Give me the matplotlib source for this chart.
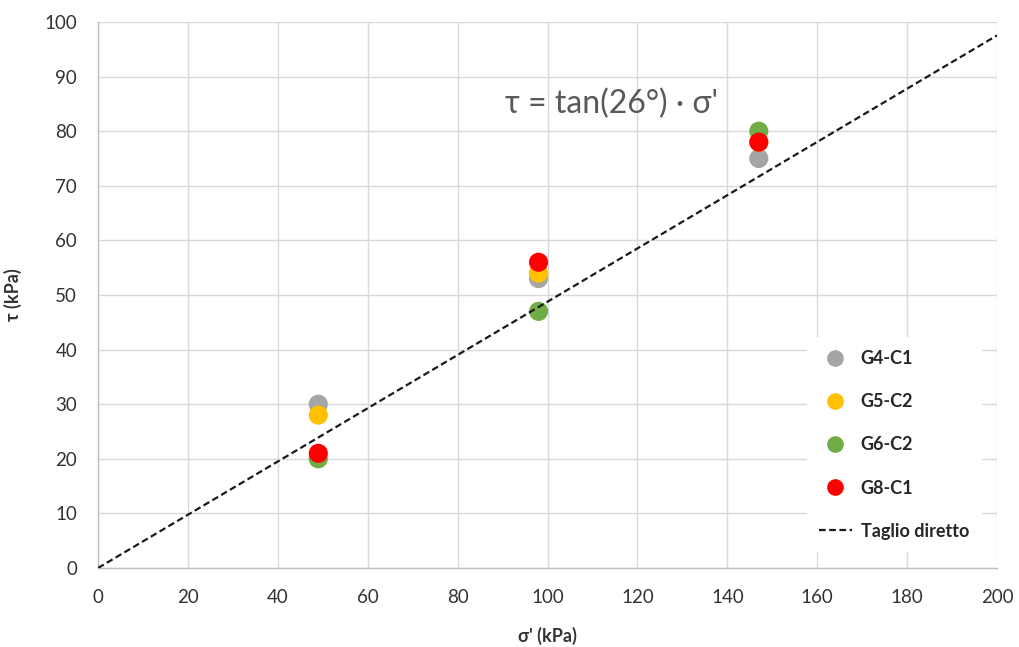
import numpy as np
import matplotlib
matplotlib.use("Agg")
import matplotlib.pyplot as plt
from matplotlib.lines import Line2D

plt.rcParams['font.family'] = ['Lato', 'DejaVu Sans']

# Normal stress levels (kPa) and measured shear strength (kPa) per sample
sigma = [49, 98, 147]
series = {
    "G4-C1": [30, 53, 75],
    "G5-C2": [28, 54, 78],
    "G6-C2": [20, 47, 80],
    "G8-C1": [21, 56, 78],
}
colors = {
    "G4-C1": "#A5A5A5",
    "G5-C2": "#FFC000",
    "G6-C2": "#70AD47",
    "G8-C1": "#FF0000",
}
phi_deg = 26
x_ticks = list(range(0, 201, 20))
y_ticks = list(range(0, 101, 10))

fig = plt.figure(figsize=(10.2, 6.47), dpi=100)
ax = fig.add_axes([0.0961, 0.1221, 0.8814, 0.8439])

handles = []
for i, (name, vals) in enumerate(series.items()):
    ax.scatter(sigma, vals, s=190, color=colors[name], edgecolors='none', zorder=3 + i)
    handles.append(Line2D([], [], marker='o', linestyle='none', markersize=12,
                          markerfacecolor=colors[name], markeredgecolor='none', label=name))

xs = np.array([0, 200])
ax.plot(xs, np.tan(np.radians(phi_deg)) * xs, linestyle=(0, (3, 1.6)), color='#1a1a1a',
        linewidth=1.6, zorder=10)
handles.append(Line2D([], [], linestyle=(0, (3, 1.6)), color='#1a1a1a', linewidth=1.6,
                      label='Taglio diretto'))

ax.set_xlim(0, 200)
ax.set_ylim(0, 100)
ax.set_xticks(x_ticks)
ax.set_yticks(y_ticks)
ax.grid(True, color='#D9D9D9', linewidth=1.0, zorder=0)
ax.set_axisbelow(True)
for side in ('top', 'right'):
    ax.spines[side].set_visible(False)
for side in ('left', 'bottom'):
    ax.spines[side].set_color('#BFBFBF')
    ax.spines[side].set_linewidth(1.0)
ax.tick_params(length=0, labelsize=13.5, colors='#333333')
ax.tick_params(axis='y', pad=15)
ax.tick_params(axis='x', pad=15)

ax.set_ylabel("τ (kPa)", fontsize=13, color='#333333', labelpad=16, fontweight='bold')
ax.set_xlabel("σ' (kPa)", fontsize=13, color='#333333', labelpad=15, fontweight='bold')

ax.text(90.5, 85, "τ = tan(26°) · σ'", fontsize=23, color='#595959', va='center', ha='left')

leg = ax.legend(handles=handles, loc='lower right', bbox_to_anchor=(0.993, 0.012),
                frameon=True, fontsize=13, labelspacing=1.45, handlelength=1.8,
                handletextpad=0.5, borderpad=0.7, fancybox=False)
leg.get_frame().set_edgecolor('none')
leg.get_frame().set_facecolor('white')
leg.get_frame().set_alpha(1)
leg.set_zorder(20)
for t in leg.get_texts():
    t.set_color('#262626')
    t.set_fontweight('bold')

fig.savefig("out.png", dpi=100)
